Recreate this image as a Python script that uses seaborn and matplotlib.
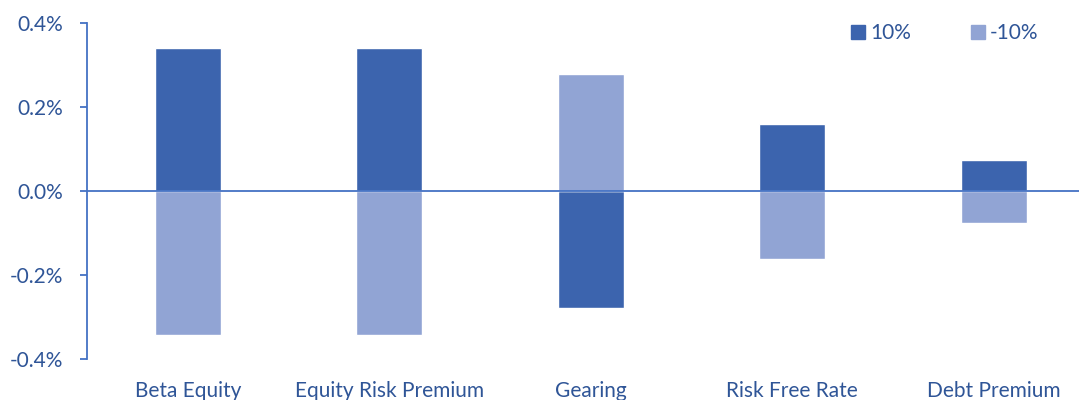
import matplotlib
matplotlib.use("Agg")
import matplotlib.pyplot as plt
import seaborn as sns
import pandas as pd
from matplotlib.patches import Patch
from matplotlib.ticker import FuncFormatter

categories = ["Beta Equity", "Equity Risk Premium", "Gearing", "Risk Free Rate", "Debt Premium"]
series_names = ["10%", "-10%"]
plus10 = [0.342, 0.342, -0.279, 0.160, 0.074]
minus10 = [-0.342, -0.342, 0.278, -0.161, -0.075]
yticks = [-0.4, -0.2, 0.0, 0.2, 0.4]

dark = "#3C64AE"
light = "#91A4D4"
text_c = "#2F5597"
axis_c = "#4472C4"

df = pd.DataFrame({
    "cat": categories * 2,
    "val": plus10 + minus10,
    "series": [series_names[0]] * len(categories) + [series_names[1]] * len(categories),
})

sns.set_theme(style="white")
plt.rcParams["font.family"] = ["Lato", "DejaVu Sans"]

fs = 15

fig = plt.figure(figsize=(10.79, 4.0), dpi=100)
ax = fig.add_axes([87 / 1079, 1 - 359 / 400, 1 - 87 / 1079, (359 - 23.3) / 400])

sns.barplot(data=df, x="cat", y="val", hue="series", order=categories,
            hue_order=series_names, palette=[dark, light], dodge=False,
            width=0.33, saturation=1, legend=False, ax=ax)

ax.set_xlim(-0.5, (1079 - 87) / 201.5 - 0.5)
ax.set_ylim(-0.4, 0.4)
ax.set_yticks(yticks)
ax.yaxis.set_major_formatter(FuncFormatter(lambda v, p: f"{v:.1f}%"))
ax.axhline(0, color=axis_c, lw=1.3, zorder=5)

for s in ["top", "right", "bottom"]:
    ax.spines[s].set_visible(False)
ax.spines["left"].set_color(axis_c)
ax.spines["left"].set_linewidth(1.3)

ax.tick_params(axis="y", which="both", left=True, length=5, width=1.3, color=axis_c,
               labelcolor=text_c, labelsize=fs, pad=12)
ax.tick_params(axis="x", bottom=False, labelcolor=text_c, labelsize=fs, pad=10)
ax.set_xlabel("")
ax.set_ylabel("")
ax.grid(False)

handles = [Patch(color=dark, label=series_names[0]), Patch(color=light, label=series_names[1])]
leg = ax.legend(handles=handles, ncol=2, frameon=False, loc="upper right",
                bbox_to_anchor=(1047 / 1079, 1 - 15 / 400), bbox_transform=fig.transFigure,
                fontsize=fs, handlelength=0.65, handleheight=0.65, handletextpad=0.25,
                columnspacing=2.9, borderaxespad=0)
for t in leg.get_texts():
    t.set_color(text_c)

fig.savefig("out.png", dpi=100)
